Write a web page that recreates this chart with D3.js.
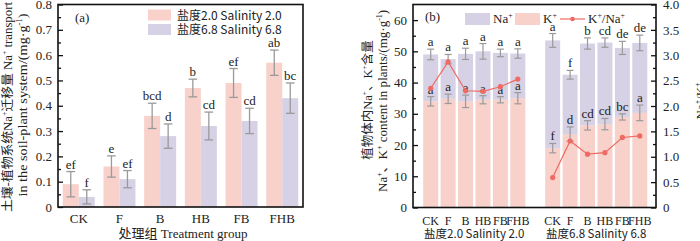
<!DOCTYPE html>
<html>
<head>
<meta charset="utf-8">
<script src="https://cdn.jsdelivr.net/npm/d3@7"></script>
<style>
  body { margin: 0; background: #fff; }
  svg { display: block; }
  text { font-family: "Liberation Serif", "Noto Sans CJK SC", serif; fill: #222; }
  .sans { font-family: "Noto Sans CJK SC", "Liberation Sans", sans-serif; }
</style>
</head>
<body>
<div id="chart"></div>
<script>
// ---- data, panel (a) ----
const cats = ['CK', 'F', 'B', 'HB', 'FB', 'FHB']
const naMove20 = [0.09, 0.16, 0.36, 0.47, 0.49, 0.57]
const naMoveErr20 = [0.05, 0.042, 0.05, 0.035, 0.057, 0.05]
const naMoveSig20 = ['ef', 'e', 'bcd', 'b', 'ef', 'ab']
const naMove68 = [0.04, 0.11, 0.28, 0.32, 0.34, 0.43]
const naMoveErr68 = [0.028, 0.034, 0.048, 0.055, 0.05, 0.06]
const naMoveSig68 = ['f', 'ef', 'd', 'cd', 'cd', 'bc']
const yTicksA = [0, 0.1, 0.2, 0.3, 0.4, 0.5, 0.6, 0.7, 0.8]

// ---- data, panel (b) ----
const kCont20 = [34, 34.8, 34, 34.5, 34.5, 35]
const kErr20 = [1.5, 1.5, 2, 1.3, 1, 1.8]
const kSig20 = ['a', 'a', 'a', 'a', 'a', 'a']
const naCont20 = [15, 12.7, 15.2, 15.5, 15, 14.3]
const totErr20 = [1.7, 1.5, 1.8, 2.5, 1.2, 1.5]
const totSig20 = ['a', 'a', 'a', 'a', 'a', 'a']
const ratio20 = [2.35, 2.87, 2.3, 2.29, 2.38, 2.53]

const kCont68 = [19, 23.5, 26.3, 26.7, 29, 30.3]
const kErr68 = [1.5, 2.3, 1.5, 1.8, 1, 2.5]
const kSig68 = ['f', 'd', 'cd', 'cd', 'bc', 'a']
const naCont68 = [34.5, 19, 26.2, 26.1, 22.1, 22.4]
const totErr68 = [2.2, 1.4, 1.8, 1.5, 2.1, 2.5]
const totSig68 = ['a', 'f', 'b', 'cd', 'de', 'de']
const ratio68 = [0.59, 1.31, 1.05, 1.08, 1.38, 1.41]

const yTicksBL = [0, 10, 20, 30, 40, 50, 60]
const yTicksBR = [0, 0.5, 1.0, 1.5, 2.0, 2.5, 3.0, 3.5, 4.0]

const pink = '#f8d1cb'
const purple = '#d6d1e4'
const errColor = '#9a9a9a'
const lineColor = '#ee6b63'

d3.selection.prototype.attrs = function (o) {
    for (const k in o) this.attr(k, o[k])
    return this
}

const svg = d3.select('#chart').append('svg')
    .attr('width', 700)
    .attr('height', 241)

// text with superscripts: parts = [[str, isSup], ...]
function rich(sel, parts, size) {
    let up = false
    parts.forEach(([s, sup]) => {
        const t = sel.append('tspan').text(s)
        if (sup && !up) { t.attr('font-size', size * 0.6).attr('dy', -size * 0.4); up = true }
        else if (sup) { t.attr('font-size', size * 0.6) }
        else if (!sup && up) { t.attr('dy', size * 0.4); up = false }
    })
    return sel
}

// rotated axis title stretched to the length
function vTitle(g, x, y, parts, size, len) {
    const t = g.append('text').attr('transform', `translate(${x},${y}) rotate(-90)`)
        .attr('text-anchor', 'middle').attr('font-size', size)
    rich(t, parts, size)
    if (len) t.attr('textLength', len).attr('lengthAdjust', 'spacingAndGlyphs')
    return t
}

function errBar(g, x, y0, y1, cap) {
    g.append('line').attrs({ x1: x, x2: x, y1: y0, y2: y1 })
    g.append('line').attrs({ x1: x - cap, x2: x + cap, y1: y0, y2: y0 })
    g.append('line').attrs({ x1: x - cap, x2: x + cap, y1: y1, y2: y1 })
}

function styleAxis(sel) {
    sel.attr('font-family', null).attr('font-size', null)
    sel.select('.domain').remove()
    sel.selectAll('text').attr('font-size', 13).attr('fill', '#222')
    sel.selectAll('line').attr('stroke', '#111').attr('stroke-width', 1.3)
}

// ================= panel (a) =================
const A = { left: 58, right: 303, top: 4.5, bottom: 207 }
const xA = d3.scaleBand().domain(cats).range([A.left, A.right]).paddingInner(0.214).paddingOuter(0.117)
const xA1 = d3.scaleBand().domain(['s20', 's68']).range([0, xA.bandwidth()])
const yA = d3.scaleLinear().domain([0, 0.8]).range([A.bottom, A.top])

const gA = svg.append('g')
const seriesA = [
    { key: 's20', vals: naMove20, err: naMoveErr20, sig: naMoveSig20, color: pink },
    { key: 's68', vals: naMove68, err: naMoveErr68, sig: naMoveSig68, color: purple }
]
seriesA.forEach(s => {
    gA.selectAll(null).data(cats).enter().append('rect')
        .attr('x', c => xA(c) + xA1(s.key))
        .attr('y', (c, i) => yA(s.vals[i]))
        .attr('width', xA1.bandwidth())
        .attr('height', (c, i) => yA(0) - yA(s.vals[i]))
        .attr('fill', s.color)
    const eg = gA.append('g').attr('stroke', errColor).attr('stroke-width', 1.3)
    cats.forEach((c, i) => {
        const cx = xA(c) + xA1(s.key) + xA1.bandwidth() / 2
        errBar(eg, cx, yA(s.vals[i] + s.err[i]), yA(s.vals[i] - s.err[i]), 4.3)
        gA.append('text')
            .attr('x', cx).attr('y', yA(s.vals[i] + s.err[i]) - 3)
            .attr('text-anchor', 'middle').attr('font-size', 13)
            .text(s.sig[i])
    })
})

// axes (a)
styleAxis(gA.append('g').attr('transform', `translate(${A.left},0)`)
    .call(d3.axisLeft(yA).tickValues(yTicksA).tickSize(-5).tickPadding(6)
        .tickFormat(d => d === 0 ? '0' : d3.format('.1f')(d))))
styleAxis(gA.append('g').attr('transform', `translate(${A.left},0)`)
    .call(d3.axisLeft(yA).tickValues(d3.range(0.05, 0.8, 0.1)).tickSize(-3).tickFormat('')))

gA.append('rect').attrs({
    x: A.left, y: A.top, width: A.right - A.left, height: A.bottom - A.top,
    fill: 'none', stroke: '#111', 'stroke-width': 1.6
})

gA.selectAll(null).data(cats).enter().append('text')
    .attr('x', c => xA(c) + xA.bandwidth() / 2)
    .attr('y', 223).attr('text-anchor', 'middle').attr('font-size', 13)
    .text(c => c)

gA.append('text').attr('x', 183).attr('y', 238).attr('text-anchor', 'middle')
    .attr('font-size', 13).text('处理组 Treatment group')

vTitle(gA, 12, 107, [['土壤-植物系统Na'], ['+', 1], ['迁移量 Na'], ['+', 1], [' transport']], 12.5, 210)
vTitle(gA, 27, 105, [['in the soil-plant system/(mg·g'], ['-1', 1], [')']], 12.5, 183)

gA.append('text').attr('x', 75).attr('y', 22).attr('font-size', 13).text('(a)')

const legA = [['盐度2.0 Salinity 2.0', pink], ['盐度6.8 Salinity 6.8', purple]]
legA.forEach(([t, c], i) => {
    gA.append('rect').attrs({ x: 148, y: 9.5 + i * 14.5, width: 23, height: 11, fill: c })
    gA.append('text').attr('class', 'sans').attr('x', 177).attr('y', 19.5 + i * 14.5)
        .attr('font-size', 12).text(t)
})

// ================= panel (b) =================
const B = { left: 413, right: 656, top: 4.5, bottom: 207.5 }
const slots = cats.map(c => '2.0' + c).concat(['gap']).concat(cats.map(c => '6.8' + c))
const xB = d3.scaleBand().domain(slots).range([B.left + 1.5, B.right]).paddingInner(0.14).paddingOuter(0.5)
const yB = d3.scaleLinear().domain([0, 65]).range([B.bottom, B.top])
const yR = d3.scaleLinear().domain([0, 4.0]).range([B.bottom, B.top])

const gB = svg.append('g')
const groupsB = [
    { pre: '2.0', k: kCont20, kErr: kErr20, kSig: kSig20, na: naCont20, tErr: totErr20, tSig: totSig20, ratio: ratio20 },
    { pre: '6.8', k: kCont68, kErr: kErr68, kSig: kSig68, na: naCont68, tErr: totErr68, tSig: totSig68, ratio: ratio68 }
]
groupsB.forEach(g => {
    const tot = g.k.map((v, i) => v + g.na[i])
    gB.selectAll(null).data(cats).enter().append('rect')
        .attr('x', c => xB(g.pre + c)).attr('width', xB.bandwidth())
        .attr('y', (c, i) => yB(g.k[i])).attr('height', (c, i) => yB(0) - yB(g.k[i]))
        .attr('fill', pink)
    gB.selectAll(null).data(cats).enter().append('rect')
        .attr('x', c => xB(g.pre + c)).attr('width', xB.bandwidth())
        .attr('y', (c, i) => yB(tot[i])).attr('height', (c, i) => yB(g.k[i]) - yB(tot[i]))
        .attr('fill', purple)
    const eg = gB.append('g').attr('stroke', errColor).attr('stroke-width', 1.2)
    cats.forEach((c, i) => {
        const cx = xB(g.pre + c) + xB.bandwidth() / 2
        errBar(eg, cx, yB(g.k[i] + g.kErr[i]), yB(g.k[i] - g.kErr[i]), 3.5)
        errBar(eg, cx, yB(tot[i] + g.tErr[i]), yB(tot[i] - g.tErr[i]), 3.5)
        gB.append('text').attr('x', cx).attr('y', yB(g.k[i] + g.kErr[i]) - 3)
            .attr('text-anchor', 'middle').attr('font-size', 13).text(g.kSig[i])
        gB.append('text').attr('x', cx).attr('y', yB(tot[i] + g.tErr[i]) - 3)
            .attr('text-anchor', 'middle').attr('font-size', 13).text(g.tSig[i])
    })
    const line = d3.line()
        .x((d, i) => xB(g.pre + cats[i]) + xB.bandwidth() / 2)
        .y(d => yR(d))
    gB.append('path').datum(g.ratio).attr('d', line)
        .attr('fill', 'none').attr('stroke', lineColor).attr('stroke-width', 1.2)
    gB.selectAll(null).data(g.ratio).enter().append('circle')
        .attr('cx', (d, i) => xB(g.pre + cats[i]) + xB.bandwidth() / 2)
        .attr('cy', d => yR(d)).attr('r', 2.6).attr('fill', lineColor)
    // category labels
    gB.selectAll(null).data(cats).enter().append('text')
        .attr('x', c => xB(g.pre + c) + xB.bandwidth() / 2)
        .attr('y', 225).attr('text-anchor', 'middle').attr('font-size', 12)
        .text(c => c)
    const mid = (xB(g.pre + 'CK') + xB(g.pre + 'FHB') + xB.bandwidth()) / 2
    gB.append('text').attr('class', 'sans').attr('x', mid).attr('y', 238)
        .attr('text-anchor', 'middle').attr('font-size', 11.5)
        .text('盐度' + g.pre + ' Salinity ' + g.pre)
})

// axes (b)
styleAxis(gB.append('g').attr('transform', `translate(${B.left},0)`)
    .call(d3.axisLeft(yB).tickValues(yTicksBL).tickSize(-5).tickPadding(6)))
styleAxis(gB.append('g').attr('transform', `translate(${B.left},0)`)
    .call(d3.axisLeft(yB).tickValues(d3.range(5, 65, 10)).tickSize(-3).tickFormat('')))
styleAxis(gB.append('g').attr('transform', `translate(${B.right},0)`)
    .call(d3.axisRight(yR).tickValues(yTicksBR).tickSize(-5).tickPadding(7)
        .tickFormat(d => d === 0 ? '0' : d3.format('.1f')(d))))
styleAxis(gB.append('g').attr('transform', `translate(${B.right},0)`)
    .call(d3.axisRight(yR).tickValues(d3.range(0.25, 4, 0.5)).tickSize(-3).tickFormat('')))

gB.append('rect').attrs({
    x: B.left, y: B.top, width: B.right - B.left, height: B.bottom - B.top,
    fill: 'none', stroke: '#111', 'stroke-width': 1.6
})

vTitle(gB, 372, 100, [['植物体内Na'], ['+', 1], ['、K'], ['+', 1], ['含量']], 12.5, null)
vTitle(gB, 387, 101, [['Na'], ['+', 1], ['、K'], ['+', 1], [' content in plants/(mg·g'], ['-1', 1], [')']], 12.5, 182)
vTitle(gB, 705, 101, [['Na'], ['+', 1], ['/K'], ['+', 1]], 13, null)

gB.append('text').attr('x', 425).attr('y', 21).attr('font-size', 13).text('(b)')

gB.append('rect').attrs({ x: 465, y: 13, width: 25, height: 12, fill: purple })
rich(gB.append('text').attr('x', 493).attr('y', 23).attr('font-size', 13), [['Na'], ['+', 1]], 13)
gB.append('rect').attrs({ x: 515, y: 13, width: 25, height: 12, fill: pink })
rich(gB.append('text').attr('x', 543).attr('y', 23).attr('font-size', 13), [['K'], ['+', 1]], 13)
gB.append('line').attrs({ x1: 560, x2: 585, y1: 19, y2: 19, stroke: lineColor, 'stroke-width': 1.2 })
gB.append('circle').attrs({ cx: 572.5, cy: 19, r: 2.3, fill: lineColor })
rich(gB.append('text').attr('x', 588).attr('y', 23).attr('font-size', 13),
    [['K'], ['+', 1], ['/Na'], ['+', 1]], 13)
</script>
</body>
</html>
